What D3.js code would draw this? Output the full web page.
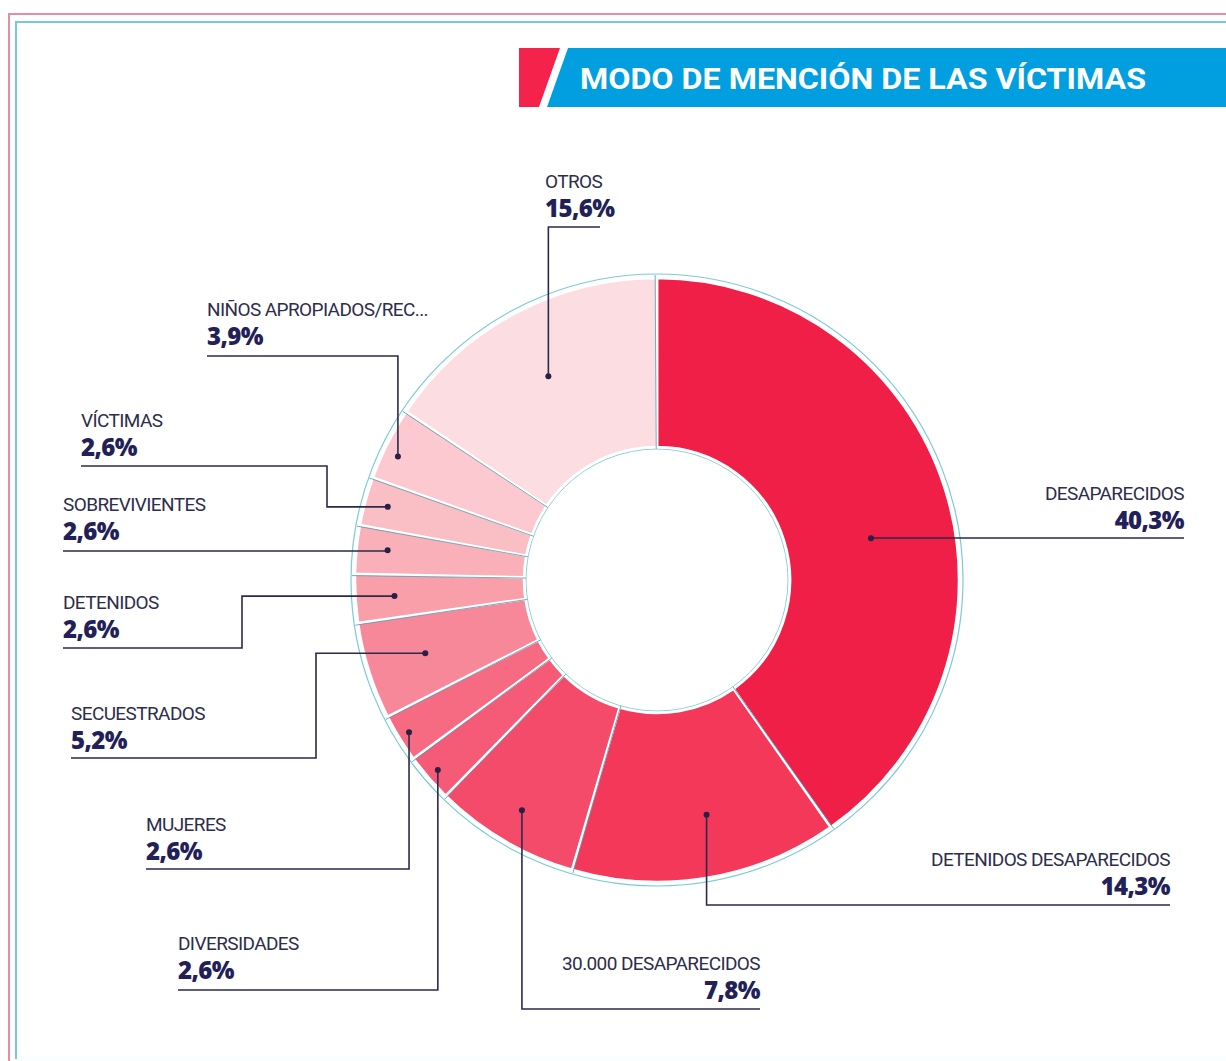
<!DOCTYPE html>
<html>
<head>
<meta charset="utf-8">
<script src="https://cdn.jsdelivr.net/npm/d3@7"></script>
<style>
  body { margin: 0; background: #fff; }
  svg { display: block; }
  .name { font-family: Roboto, sans-serif; font-size: 19px; fill: #2e2d4c; letter-spacing: -0.6px; }
  .pct { font-family: "Open Sans", sans-serif; font-weight: 800; font-size: 24px; fill: #231f58; letter-spacing: -0.6px; }
</style>
</head>
<body>
<svg id="chart" width="1226" height="1061"></svg>
<script>
// datos
var categorias = ["DESAPARECIDOS", "DETENIDOS DESAPARECIDOS", "30.000 DESAPARECIDOS", "DIVERSIDADES",
  "MUJERES", "SECUESTRADOS", "DETENIDOS", "SOBREVIVIENTES", "VÍCTIMAS", "NIÑOS APROPIADOS/REC...", "OTROS"];
var valores = [40.3, 14.3, 7.8, 2.6, 2.6, 5.2, 2.6, 2.6, 2.6, 3.9, 15.6];
var colores = ["#f01f47", "#f3385a", "#f44b6b", "#f55a76", "#f66a82", "#f78899", "#f89faa",
  "#f9b0b9", "#fabec5", "#fbc9cf", "#fcdde1"];

// posiciones de etiquetas (x texto, y base, anclaje, codo, radio del punto, fraccion del angulo)
var etiquetas = [
  {x: 1184, y: 500, a: "end",   lx: 1184, ly: 538, ex: null, r: 218, t: 0.545},
  {x: 1170, y: 866, a: "end",   lx: 1170, ly: 905, ex: null, r: 240, t: 0.45},
  {x: 760,  y: 970, a: "end",   lx: 760,  ly: 1009, ex: null, r: 267, t: 0.5},
  {x: 178,  y: 950, a: "start", lx: 178,  ly: 990, ex: null, r: 290, t: 0.5},
  {x: 146,  y: 831, a: "start", lx: 146,  ly: 869, ex: null, r: 291, t: 0.5},
  {x: 71,   y: 720, a: "start", lx: 71,   ly: 758, ex: 316, r: 243, t: 0.5},
  {x: 63,   y: 609, a: "start", lx: 63,   ly: 648, ex: 242, r: 263, t: 0.5},
  {x: 63,   y: 511, a: "start", lx: 63,   ly: 551, ex: null, r: 271, t: 0.55},
  {x: 81,   y: 427, a: "start", lx: 81,   ly: 466, ex: 327, r: 279, t: 0.5},
  {x: 207,  y: 316, a: "start", lx: 207,  ly: 356, ex: null, r: 287, t: 0.4},
  {x: 545,  y: 188, a: "start", lx: 600,  ly: 227, ex: null, r: 231, t: 0.5}
];

var svg = d3.select("#chart");
var cx = 657, cy = 580, rOut = 302, rIn = 133;

// marco
svg.append("rect").attr("x", 9).attr("y", 14).attr("width", 1400).attr("height", 1050)
  .attr("fill", "none").attr("stroke", "#e48ea4").attr("stroke-width", 2);
svg.append("rect").attr("x", 16).attr("y", 22).attr("width", 1400).attr("height", 1036)
  .attr("fill", "none").attr("stroke", "#79c9d2").attr("stroke-width", 2);
svg.append("rect").attr("x", 17).attr("y", 1056).attr("width", 1300).attr("height", 5).attr("fill", "#fbfefe");

// titulo
svg.append("path").attr("d", "M519,48 L560,48 L539,107 L519,107 Z").attr("fill", "#f5224b");
svg.append("path").attr("d", "M568,48 L1226,48 L1226,107 L547,107 Z").attr("fill", "#019fe0");
svg.append("text").attr("x", 580).attr("y", 89)
  .attr("textLength", 566).attr("lengthAdjust", "spacingAndGlyphs")
  .style("font-family", "Roboto, sans-serif").style("font-weight", 700).style("font-size", "30px")
  .style("fill", "#fff").text("MODO DE MENCIÓN DE LAS VÍCTIMAS");

var pie = d3.pie().sort(null).value(function(d) { return d; });
var arcs = pie(valores);
var arc = d3.arc().innerRadius(rIn).outerRadius(rOut);

var g = svg.append("g").attr("transform", "translate(" + cx + "," + cy + ")");

g.append("circle").attr("r", rOut + 4).attr("fill", "none")
  .attr("stroke", "#7ccbd3").attr("stroke-width", 1.2);
g.append("circle").attr("r", rIn - 2).attr("fill", "none")
  .attr("stroke", "#8fd2d8").attr("stroke-width", 1);

g.selectAll("path.slice")
  .data(arcs)
  .enter().append("path")
  .attr("class", "slice")
  .attr("d", arc)
  .attr("fill", function(d, i) { return colores[i]; })
  .attr("stroke", "#fff")
  .attr("stroke-width", 2.5);

// separadores azulados
g.selectAll("line.sep")
  .data(arcs)
  .enter().append("line")
  .attr("class", "sep")
  .each(function(d) {
    var a = d.startAngle - 0.006;
    d3.select(this)
      .attr("x1", Math.sin(a) * (rIn - 2)).attr("y1", -Math.cos(a) * (rIn - 2))
      .attr("x2", Math.sin(a) * (rOut + 3)).attr("y2", -Math.cos(a) * (rOut + 3));
  })
  .attr("stroke", "#5c9fb2").attr("stroke-width", 1).attr("stroke-opacity", 0.85);

// puntos y lineas guia
function punto(d, i) {
  var e = etiquetas[i];
  var a = d.startAngle + e.t * (d.endAngle - d.startAngle);
  return [cx + Math.sin(a) * e.r, cy - Math.cos(a) * e.r];
}

var line = d3.line();
svg.selectAll("path.guia")
  .data(arcs)
  .enter().append("path")
  .attr("class", "guia")
  .attr("d", function(d, i) {
    var e = etiquetas[i], p = punto(d, i);
    var ex = e.ex === null ? p[0] : e.ex;
    return line([[e.lx, e.ly], [ex, e.ly], [ex, p[1]], [p[0], p[1]]]);
  })
  .attr("fill", "none").attr("stroke", "#2b2a4d").attr("stroke-width", 1.6);

svg.selectAll("circle.dot")
  .data(arcs)
  .enter().append("circle")
  .attr("class", "dot")
  .attr("cx", function(d, i) { return punto(d, i)[0]; })
  .attr("cy", function(d, i) { return punto(d, i)[1]; })
  .attr("r", 3).attr("fill", "#2b1f45");

var lab = svg.selectAll("g.lab")
  .data(arcs)
  .enter().append("g").attr("class", "lab");
lab.append("text").attr("class", "name")
  .attr("x", function(d, i) { return etiquetas[i].x; })
  .attr("y", function(d, i) { return etiquetas[i].y; })
  .attr("text-anchor", function(d, i) { return etiquetas[i].a; })
  .text(function(d, i) { return categorias[i]; });
lab.append("text").attr("class", "pct")
  .attr("x", function(d, i) { return etiquetas[i].x; })
  .attr("y", function(d, i) { return etiquetas[i].y + 29; })
  .attr("text-anchor", function(d, i) { return etiquetas[i].a; })
  .text(function(d, i) { return valores[i].toFixed(1).replace(".", ",") + "%"; });
</script>
</body>
</html>
